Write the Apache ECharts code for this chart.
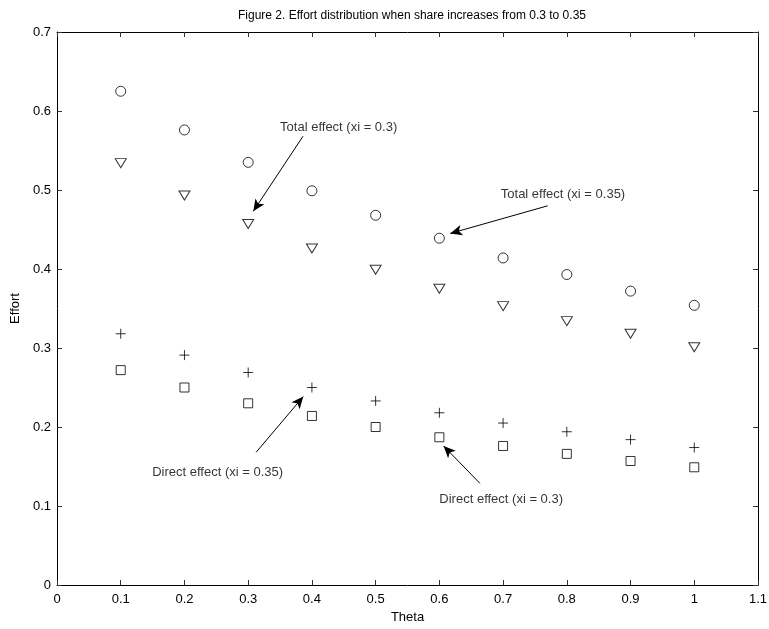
<!DOCTYPE html>
<html><head><meta charset="utf-8">
<script src="https://cdn.jsdelivr.net/npm/echarts@6/dist/echarts.min.js"></script>
<style>html,body{margin:0;padding:0;background:#fff}#c{width:769px;height:629px}</style>
</head><body><div id="c"></div>
<script>
var theta = [0.1,0.2,0.3,0.4,0.5,0.6,0.7,0.8,0.9,1.0];
var totalXi035 = [0.625,0.576,0.535,0.499,0.468,0.439,0.414,0.393,0.372,0.354];
var totalXi03  = [0.534,0.493,0.457,0.426,0.399,0.375,0.353,0.334,0.318,0.301];
var directXi035 = [0.318,0.291,0.269,0.250,0.233,0.218,0.205,0.194,0.184,0.174];
var directXi03  = [0.272,0.250,0.230,0.214,0.200,0.187,0.176,0.166,0.157,0.149];
var xTicks = [0,0.1,0.2,0.3,0.4,0.5,0.6,0.7,0.8,0.9,1,1.1];
var yTicks = [0,0.1,0.2,0.3,0.4,0.5,0.6,0.7];
var annotations = [
  {text:'Total effect (xi = 0.3)', at:[0.442,0.579], from:[0.386,0.568], to:[0.308,0.473]},
  {text:'Total effect (xi = 0.35)', at:[0.794,0.494], from:[0.770,0.480], to:[0.617,0.445]},
  {text:'Direct effect (xi = 0.35)', at:[0.252,0.143], from:[0.3125,0.168], to:[0.3865,0.2385]},
  {text:'Direct effect (xi = 0.3)', at:[0.697,0.108], from:[0.6636,0.1287], to:[0.6066,0.176]}
];

function pairs(xs, ys){ return xs.map(function(x,i){return [x, ys[i]];}); }
var FONT = 'Liberation Sans, Arial, sans-serif';
var chart = echarts.init(document.getElementById('c'));
var axisCommon = {
  min:0, interval:0.1,
  axisLine:{show:true, onZero:false, lineStyle:{color:'#000', width:1}},
  axisTick:{show:true, inside:true, length:5, lineStyle:{color:'#333'}},
  splitLine:{show:false}
};
function fmt(v){ return String(Math.round(v*10)/10); }
var plus = 'path://M0,5L10,5M5,0L5,10';
var openStyle = {color:'#fff', borderColor:'#000', borderWidth:1};
chart.setOption({
  animation:false,
  backgroundColor:'#fff',
  title:{text:'Figure 2. Effort distribution when share increases from 0.3 to 0.35', left:407, textAlign:'center', top:5,
    textStyle:{fontFamily:FONT, fontSize:12, fontWeight:'normal', color:'#000'}},
  grid:{left:57, right:11, top:32, bottom:44, outerBoundsMode:'none'},
  xAxis:[
    Object.assign({}, axisCommon, {type:'value', max:1.1, position:'bottom', name:'Theta', nameLocation:'middle', nameGap:25,
      nameTextStyle:{fontFamily:FONT, fontSize:13, color:'#000'},
      axisLabel:{show:true, margin:8, fontFamily:FONT, fontSize:13, color:'#000', formatter:fmt, showMinLabel:true, showMaxLabel:true}}),
    Object.assign({}, axisCommon, {type:'value', max:1.1, position:'top', axisLabel:{show:false}})
  ],
  yAxis:[
    Object.assign({}, axisCommon, {type:'value', max:0.7, position:'left', name:'Effort', nameLocation:'middle', nameGap:30,
      nameTextStyle:{fontFamily:FONT, fontSize:13, color:'#000'},
      axisLabel:{show:true, margin:6, fontFamily:FONT, fontSize:13, color:'#000', formatter:fmt, showMinLabel:true, showMaxLabel:true}}),
    Object.assign({}, axisCommon, {type:'value', max:0.7, position:'right', axisLabel:{show:false}})
  ],
  series:[
    {name:'Total effect (xi = 0.35)', type:'scatter', symbol:'circle', symbolSize:10, data:pairs(theta,totalXi035), itemStyle:openStyle},
    {name:'Total effect (xi = 0.3)', type:'scatter', symbol:'triangle', symbolRotate:180, symbolSize:[11,9], data:pairs(theta,totalXi03), itemStyle:openStyle},
    {name:'Direct effect (xi = 0.35)', type:'scatter', symbol:plus, symbolSize:10, data:pairs(theta,directXi035), itemStyle:{color:'none', borderColor:'#000', borderWidth:1}},
    {name:'Direct effect (xi = 0.3)', type:'scatter', symbol:'rect', symbolSize:9, data:pairs(theta,directXi03), itemStyle:openStyle},
    {name:'annotations', type:'scatter', symbolSize:0, silent:true,
      data:annotations.map(function(a){return {value:a.at, label:{formatter:a.text}};}),
      label:{show:true, position:'inside', fontFamily:FONT, fontSize:13, color:'#000', textBorderWidth:0},
      markLine:{silent:true, animation:false, symbol:['none','arrow'], symbolSize:[8,12], precision:4,
        lineStyle:{color:'#000', width:1, type:'solid'}, label:{show:false},
        itemStyle:{color:'#000'},
        data:annotations.map(function(a){return [{coord:a.from},{coord:a.to}];})}
    }
  ]
});
</script></body></html>
